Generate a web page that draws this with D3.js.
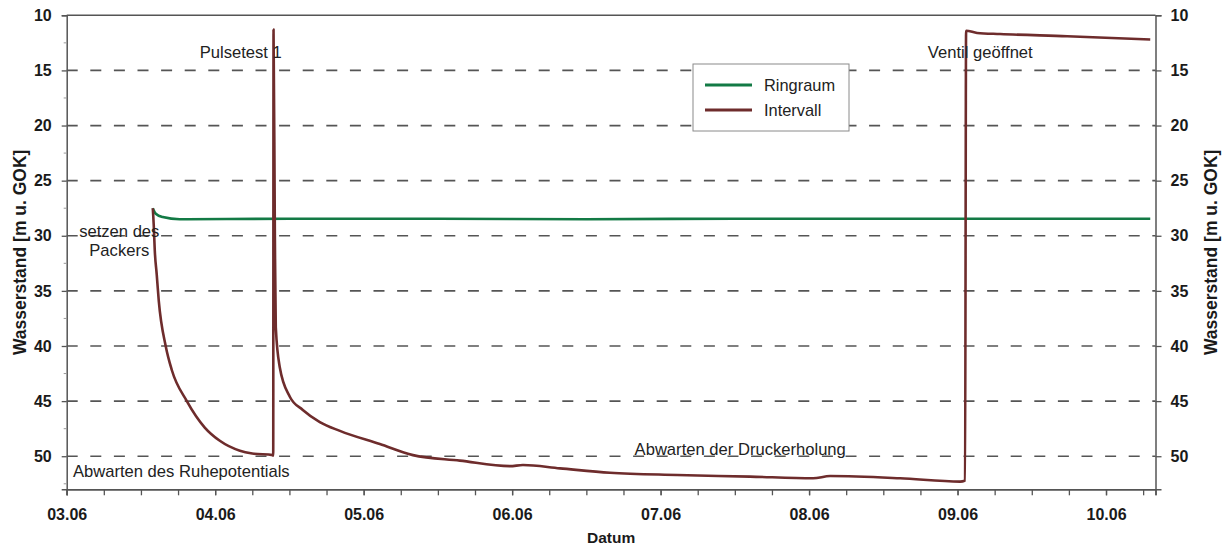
<!DOCTYPE html>
<html>
<head>
<meta charset="utf-8">
<script src="https://cdn.jsdelivr.net/npm/d3@7"></script>
<style>
  body { margin: 0; background: #fff; }
  svg text { font-family: "Liberation Sans", Arial, sans-serif; }
</style>
</head>
<body>
<div id="chart"></div>
<script>
var W = 1226,
H = 546,
M = {top: 15.3, right: 70.5, bottom: 56.7, left: 66.7},
parse = d3.timeParse("%d.%m %H:%M");

var intervallTime = ["03.06 13:55", "03.06 14:04", "03.06 14:14", "03.06 14:33", "03.06 14:53",
  "03.06 16:00", "03.06 17:00", "03.06 19:25", "03.06 22:19", "04.06 00:45", "04.06 04:00",
  "04.06 06:00", "04.06 09:19", "04.06 09:23", "04.06 09:26", "04.06 09:39", "04.06 09:48",
  "04.06 10:26", "04.06 12:04", "04.06 14:10", "04.06 16:55", "04.06 20:10", "05.06 02:37",
  "05.06 07:58", "05.06 15:33", "05.06 23:38", "06.06 01:45", "06.06 07:44", "06.06 15:49",
  "07.06 02:40", "07.06 14:27", "08.06 00:39", "08.06 03:24", "08.06 14:43", "09.06 00:25",
  "09.06 01:13", "09.06 01:23", "09.06 03:10", "09.06 06:53", "09.06 17:44", "10.06 07:09"];
var intervallValue = [27.5, 29.0, 31.3, 33.5, 35.9,
  40.0, 42.2, 45.0, 47.4, 48.6, 49.5,
  49.75, 49.9, 49.95, 11.3, 30.0, 38.3,
  41.9, 44.6, 45.8, 46.9, 47.7, 48.9,
  49.9, 50.4, 50.9, 50.8, 51.1, 51.5,
  51.7, 51.85, 52.0, 51.8, 52.0, 52.3,
  52.2, 11.4, 11.6, 11.7, 11.9, 12.2];

// Ringraum
var ringTime = ["03.06 13:55", "03.06 14:24", "03.06 15:31", "03.06 18:16", "04.06 12:00",
  "05.06 12:00", "06.06 12:00", "07.06 12:00", "08.06 12:00", "09.06 12:00", "10.06 07:09"];
var ringValue = [27.5, 28.0, 28.3, 28.5, 28.45, 28.45, 28.5, 28.45, 28.45, 28.45, 28.45];

var dayTicks = ["03.06 00:00", "04.06 00:00", "05.06 00:00", "06.06 00:00", "07.06 00:00",
  "08.06 00:00", "09.06 00:00", "10.06 00:00"];
var yTicks = [10, 15, 20, 25, 30, 35, 40, 45, 50];
var xDomain = ["03.06 00:00", "10.06 08:00"];
var yDomain = [10, 53];

var notes = [
  {t: "Pulsetest 1", x: "03.06 21:30", y: 13.85, a: "start"},
  {t: "Ventil geöffnet", x: "08.06 19:12", y: 13.85, a: "start"},
  {t: "setzen des", x: "03.06 08:30", y: 30.1, a: "middle"},
  {t: "Packers", x: "03.06 08:30", y: 31.8, a: "middle"},
  {t: "Abwarten des Ruhepotentials", x: "03.06 01:00", y: 51.85, a: "start"},
  {t: "Abwarten der Druckerholung", x: "06.06 19:48", y: 49.86, a: "start"}
];

var GREEN = "#137a45", BROWN = "#6e2c2c", AXIS = "#555";

var svg = d3.select("#chart").append("svg")
  .attr("width", W).attr("height", H);

var x = d3.scaleTime()
  .domain(xDomain.map(parse))
  .range([M.left, W - M.right]);
var y = d3.scaleLinear()
  .domain(yDomain)
  .range([M.top, H - M.bottom]);

var x0 = M.left, x1 = W - M.right, y0 = M.top, y1 = H - M.bottom;

// dashed grid
svg.append("g").selectAll("line")
  .data(yTicks.slice(1))
  .join("line")
  .attr("x1", x0).attr("x2", x1)
  .attr("y1", function(d) { return y(d); })
  .attr("y2", function(d) { return y(d); })
  .style("stroke", "#555")
  .style("stroke-width", 1.7)
  .style("stroke-dasharray", "11,12.6");

// frame
svg.append("line").attr("x1", x0).attr("x2", x1).attr("y1", y0).attr("y2", y0)
  .style("stroke", AXIS).style("stroke-width", 1.5);

// left axis
svg.append("g")
  .attr("transform", "translate(" + x0 + ",0)")
  .call(d3.axisLeft(y).tickValues(yTicks).tickSize(5).tickPadding(10));
// minor ticks left
svg.append("g").selectAll("line")
  .data(d3.range(12.5, 53, 5))
  .join("line")
  .attr("x1", x0 - 3).attr("x2", x0)
  .attr("y1", function(d) { return y(d); })
  .attr("y2", function(d) { return y(d); })
  .style("stroke", "#999").style("stroke-width", 1);

// right axis
svg.append("g")
  .attr("transform", "translate(" + x1 + ",0)")
  .call(d3.axisRight(y).tickValues(yTicks).tickSize(6).tickPadding(9));

// bottom axis
var sixHours = d3.timeHour.every(6).range(x.domain()[0], x.domain()[1]);
svg.append("g")
  .attr("transform", "translate(0," + y1 + ")")
  .call(d3.axisBottom(x).tickValues(sixHours).tickSize(6).tickFormat(""));
svg.append("g")
  .attr("transform", "translate(0," + y1 + ")")
  .call(d3.axisBottom(x).tickValues(dayTicks.map(parse)).tickSize(6).tickPadding(13)
    .tickFormat(d3.timeFormat("%d.%m")));

svg.selectAll(".domain").style("stroke", AXIS).style("stroke-width", 1.5);
svg.selectAll(".tick line").style("stroke", AXIS).style("stroke-width", 1.3);
svg.selectAll(".tick text")
  .style("font-family", "'Liberation Sans', Arial, sans-serif")
  .style("font-size", "16px")
  .style("font-weight", "bold")
  .style("fill", "#1a1a1a");

// axis titles
svg.append("text")
  .attr("transform", "translate(20," + (y0 + y1) / 2 + ") rotate(-90)")
  .attr("text-anchor", "middle").attr("dy", "0.35em")
  .style("font-size", "17.5px").style("font-weight", "bold").style("fill", "#1a1a1a")
  .text("Wasserstand [m u. GOK]");
svg.append("text")
  .attr("transform", "translate(1211," + (y0 + y1) / 2 + ") rotate(-90)")
  .attr("text-anchor", "middle").attr("dy", "0.35em")
  .style("font-size", "17.5px").style("font-weight", "bold").style("fill", "#1a1a1a")
  .text("Wasserstand [m u. GOK]");
svg.append("text")
  .attr("x", (x0 + x1) / 2).attr("y", 543)
  .attr("text-anchor", "middle")
  .style("font-size", "15.5px").style("font-weight", "bold").style("fill", "#1a1a1a")
  .text("Datum");

// series
var line = d3.line()
  .x(function(d) { return x(d[0]); })
  .y(function(d) { return y(d[1]); })
  .curve(d3.curveMonotoneX);

var ring = ringTime.map(function(t, i) { return [parse(t), ringValue[i]]; });
var intervall = intervallTime.map(function(t, i) { return [parse(t), intervallValue[i]]; });

svg.append("path").datum(ring)
  .attr("d", line)
  .style("fill", "none").style("stroke", GREEN).style("stroke-width", 2.6);
svg.append("path").datum(intervall)
  .attr("d", line)
  .style("fill", "none").style("stroke", BROWN).style("stroke-width", 2.6)
  .style("stroke-linejoin", "round");

// annotations
svg.append("g").selectAll("text")
  .data(notes)
  .join("text")
  .attr("x", function(d) { return x(parse(d.x)); })
  .attr("y", function(d) { return y(d.y); })
  .attr("text-anchor", function(d) { return d.a; })
  .style("font-size", "16.6px")
  .style("fill", "#222")
  .text(function(d) { return d.t; });

// legend
var leg = svg.append("g").attr("transform", "translate(693,64)");
leg.append("rect")
  .attr("width", 156).attr("height", 67)
  .style("fill", "#fff").style("stroke", "#8a8a8a").style("stroke-width", 1);
var legItems = [["Ringraum", GREEN], ["Intervall", BROWN]];
legItems.forEach(function(d, i) {
  leg.append("line")
    .attr("x1", 12).attr("x2", 59)
    .attr("y1", 21 + i * 25).attr("y2", 21 + i * 25)
    .style("stroke", d[1]).style("stroke-width", 3);
  leg.append("text")
    .attr("x", 71).attr("y", 21 + i * 25).attr("dy", "0.35em")
    .style("font-size", "16.4px").style("fill", "#222")
    .text(d[0]);
});
</script>
</body>
</html>
